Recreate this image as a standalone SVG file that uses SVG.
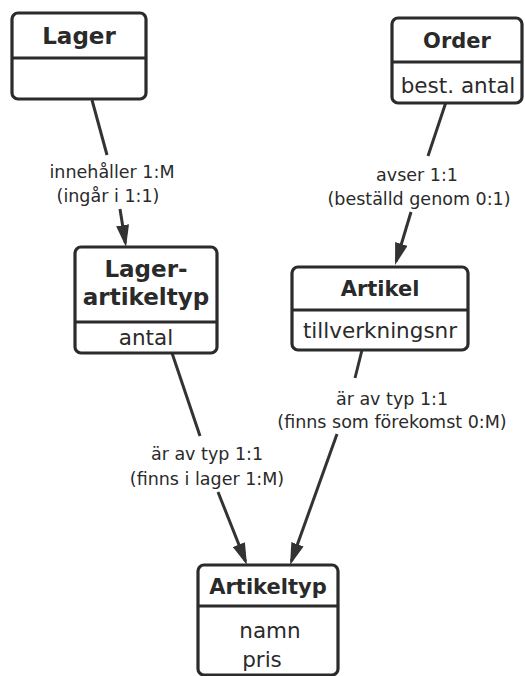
<svg xmlns="http://www.w3.org/2000/svg" width="525" height="676" viewBox="0 0 525 676">
  <style>
    .box { fill: #ffffff; stroke: #2b2b2b; stroke-width: 3.2; }
    .div { stroke: #2b2b2b; stroke-width: 3.2; }
    .title { font-family: "DejaVu Sans", "Liberation Sans", sans-serif; font-weight: bold; fill: #2a2a2a; text-anchor: middle; }
    .attr { font-family: "DejaVu Sans", "Liberation Sans", sans-serif; fill: #2a2a2a; text-anchor: middle; font-size: 21.5px; }
    .lbl { font-family: "DejaVu Sans", "Liberation Sans", sans-serif; fill: #2a2a2a; text-anchor: middle; font-size: 17.5px; }
    .edge { stroke: #333333; stroke-width: 3; fill: none; }
  </style>
  <defs>
    <marker id="arrow" markerUnits="userSpaceOnUse" markerWidth="22" markerHeight="13" viewBox="0 0 22 13" refX="18" refY="6.5" orient="auto">
      <path d="M0,0 L22,6.5 L0,13 z" fill="#333333"/>
    </marker>
  </defs>
  <rect width="525" height="676" fill="#ffffff"/>

  <!-- relationships -->
  <g id="connectors">
    <g id="lager-lagerartikeltyp">
      <line class="edge" x1="92" y1="100" x2="107" y2="155"/>
      <line class="edge" x1="120" y1="209" x2="125.4" y2="243" marker-end="url(#arrow)"/>
      <text class="lbl" x="112" y="178">innehåller 1:M</text>
      <text class="lbl" x="108" y="202">(ingår i 1:1)</text>
    </g>
    <g id="order-artikel">
      <line class="edge" x1="446" y1="102" x2="428" y2="156"/>
      <line class="edge" x1="411" y1="212" x2="396.2" y2="261.2" marker-end="url(#arrow)"/>
      <text class="lbl" x="417" y="181">avser 1:1</text>
      <text class="lbl" x="419" y="205">(beställd genom 0:1)</text>
    </g>
    <g id="lagerartikeltyp-artikeltyp">
      <line class="edge" x1="172" y1="353" x2="200" y2="436"/>
      <line class="edge" x1="218" y1="492" x2="245.5" y2="561.3" marker-end="url(#arrow)"/>
      <text class="lbl" x="207" y="460">är av typ 1:1</text>
      <text class="lbl" x="207" y="485">(finns i lager 1:M)</text>
    </g>
    <g id="artikel-artikeltyp">
      <line class="edge" x1="362" y1="350" x2="355" y2="378"/>
      <line class="edge" x1="337" y1="434" x2="291.4" y2="561.2" marker-end="url(#arrow)"/>
      <text class="lbl" x="392" y="405">är av typ 1:1</text>
      <text class="lbl" x="392" y="428">(finns som förekomst 0:M)</text>
    </g>
  </g>

  <!-- entities -->
  <g id="lager">
    <rect class="box" x="12" y="13" width="134" height="86" rx="6"/>
    <line class="div" x1="12" y1="58" x2="146" y2="58"/>
    <text class="title" x="79" y="44" font-size="23">Lager</text>
  </g>

  <g id="order">
    <rect class="box" x="392" y="18" width="130" height="85" rx="6"/>
    <line class="div" x1="392" y1="62" x2="522" y2="62"/>
    <text class="title" x="457" y="48" font-size="21">Order</text>
    <text class="attr" x="458" y="93" font-size="23">best. antal</text>
  </g>

  <g id="lagerartikeltyp">
    <rect class="box" x="75" y="247" width="142" height="106" rx="6"/>
    <line class="div" x1="75" y1="322" x2="217" y2="322"/>
    <text class="title" x="146" y="277" font-size="23">Lager-</text>
    <text class="title" x="146" y="305" font-size="23">artikeltyp</text>
    <text class="attr" x="146" y="345">antal</text>
  </g>

  <g id="artikel">
    <rect class="box" x="292" y="267" width="176" height="83" rx="6"/>
    <line class="div" x1="292" y1="310" x2="468" y2="310"/>
    <text class="title" x="380" y="296" font-size="21">Artikel</text>
    <text class="attr" x="380" y="338" font-size="22">tillverkningsnr</text>
  </g>

  <g id="artikeltyp">
    <rect class="box" x="198" y="565" width="140" height="110" rx="6"/>
    <line class="div" x1="198" y1="606" x2="338" y2="606"/>
    <text class="title" x="268" y="594" font-size="21">Artikeltyp</text>
    <text class="attr" x="270" y="638">namn</text>
    <text class="attr" x="262" y="667">pris</text>
  </g>
</svg>
